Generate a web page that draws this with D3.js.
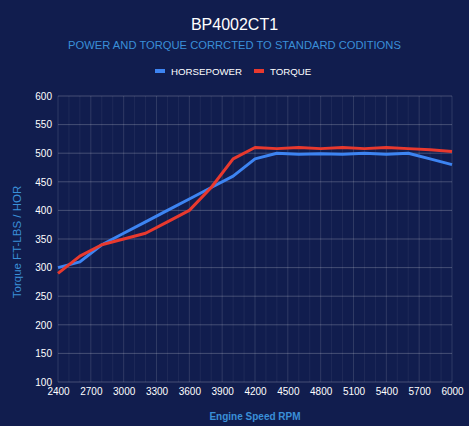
<!DOCTYPE html>
<html lang="en">
<head>
  <meta charset="UTF-8">
  <title>BP4002CT1</title>
  <script src="https://d3js.org/d3.v7.min.js"></script>
  <style>
    html, body {
      margin: 0;
      padding: 0;
      overflow: hidden;
      background: #111d4e;
      font-family: "Liberation Sans", Arial, sans-serif;
    }
    svg { display: block; }
  </style>
</head>
<body>
  <svg width="469" height="426"></svg>

  <script>
    // readings every 200 rpm
    const rpm = [2400, 2600, 2800, 3000, 3200, 3400, 3600, 3800, 4000, 4200,
                 4400, 4600, 4800, 5000, 5200, 5400, 5600, 5800, 6000];
    const horsepower = [300, 310, 340, 360, 380, 400, 420, 440, 460, 490,
                        500, 498, 499, 498, 500, 498, 500, 490, 480];
    const torque = [290, 320, 340, 350, 360, 380, 400, 440, 490, 510,
                    508, 510, 508, 510, 508, 510, 508, 506, 503];
    const xTicks = [2400, 2700, 3000, 3300, 3600, 3900, 4200, 4500, 4800, 5100, 5400, 5700, 6000];
    const yTicks = [100, 150, 200, 250, 300, 350, 400, 450, 500, 550, 600];

    const series = [
      { name: "HORSEPOWER", color: "#3d84f2", values: horsepower },
      { name: "TORQUE", color: "#e8392e", values: torque }
    ];

    const svg = d3.select("svg");
    const width = 469, height = 426;
    const m = { left: 58, right: 17, top: 96, bottom: 44 };

    const x = d3.scaleLinear().domain([2400, 6000]).range([m.left, width - m.right]);
    const y = d3.scaleLinear().domain([100, 600]).range([height - m.bottom, m.top]);

    // titles
    svg.append("text")
      .attr("x", width / 2).attr("y", 30)
      .attr("text-anchor", "middle")
      .attr("fill", "#ffffff")
      .attr("font-size", 16)
      .text("BP4002CT1");

    svg.append("text")
      .attr("x", width / 2).attr("y", 49)
      .attr("text-anchor", "middle")
      .attr("fill", "#3a8fd8")
      .attr("font-size", 11.2)
      .text("POWER AND TORQUE CORRCTED TO STANDARD CODITIONS");

    // legend
    const legend = svg.append("g");
    const legendX = [155, 254];
    series.forEach((s, i) => {
      const g = legend.append("g").attr("transform", `translate(${legendX[i]},71)`);
      g.append("rect").attr("x", 0).attr("y", -2).attr("width", 10).attr("height", 4)
        .attr("fill", s.color);
      g.append("text").attr("x", 16).attr("y", 3.5)
        .attr("fill", "#ffffff").attr("font-size", 9.7)
        .text(s.name);
    });

    // grid
    const grid = svg.append("g");
    const minor = d3.range(2400, 6001, 100);
    grid.selectAll("line.v")
      .data(minor)
      .enter().append("line")
      .attr("x1", d => x(d)).attr("x2", d => x(d))
      .attr("y1", y(600)).attr("y2", y(100))
      .attr("stroke", "#ffffff")
      .attr("stroke-opacity", d => (d - 2400) % 300 === 0 ? 0.13 : 0.06);
    grid.selectAll("line.h")
      .data(yTicks)
      .enter().append("line")
      .attr("x1", x(2400)).attr("x2", x(6000))
      .attr("y1", d => y(d)).attr("y2", d => y(d))
      .attr("stroke", "#ffffff")
      .attr("stroke-opacity", 0.22);

    // axes
    const yAxis = svg.append("g")
      .attr("transform", `translate(${m.left},0)`)
      .call(d3.axisLeft(y).tickValues(yTicks).tickSize(0).tickPadding(6));
    const xAxis = svg.append("g")
      .attr("transform", `translate(0,${height - m.bottom})`)
      .call(d3.axisBottom(x).tickValues(xTicks).tickSize(0).tickPadding(6).tickFormat(d3.format("d")));
    [xAxis, yAxis].forEach(a => {
      a.select(".domain").remove();
      a.selectAll("text")
        .attr("fill", "#ffffff")
        .attr("font-size", 10)
        .attr("font-family", "Liberation Sans, Arial, sans-serif");
    });

    svg.append("text")
      .attr("transform", `translate(21,${(y(100) + y(600)) / 2 + 3}) rotate(-90)`)
      .attr("text-anchor", "middle")
      .attr("fill", "#3a8fd8")
      .attr("font-size", 11.5)
      .text("Torque FT-LBS / HOR");

    svg.append("text")
      .attr("x", (x(2400) + x(6000)) / 2).attr("y", 420)
      .attr("text-anchor", "middle")
      .attr("fill", "#3a8fd8")
      .attr("font-size", 10)
      .attr("font-weight", "bold")
      .text("Engine Speed RPM");

    // lines
    const line = d3.line()
      .x((d, i) => x(rpm[i]))
      .y(d => y(d));

    svg.append("g")
      .selectAll("path")
      .data(series)
      .enter().append("path")
      .attr("fill", "none")
      .attr("stroke", d => d.color)
      .attr("stroke-width", 3)
      .attr("stroke-linejoin", "round")
      .attr("d", d => line(d.values));
  </script>
</body>
</html>
